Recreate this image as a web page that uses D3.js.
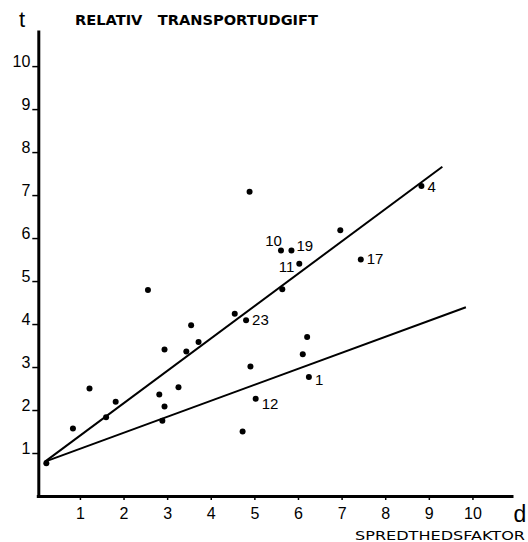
<!DOCTYPE html>
<html>
<head>
<meta charset="utf-8">
<script src="https://cdn.jsdelivr.net/npm/d3@7"></script>
<style>
  body { margin: 0; background: #fff; }
  svg { display: block; font-family: "Liberation Sans", Arial, sans-serif; }
</style>
</head>
<body>
<div id="chart"></div>
<script>
// spredthedsfaktor (d) and relativ transportudgift (t) for each observation
const dValues = [4.89, 2.56, 2.94, 3.55, 3.44, 3.72, 4.55, 4.81, 4.91, 0.23, 0.84, 1.22, 1.60, 1.82, 2.82,
                 2.94, 2.89, 3.26, 4.73, 5.03, 8.83, 6.97, 5.61, 5.85, 6.03, 7.44, 5.64, 6.21, 6.11, 6.25];
const tValues = [7.08, 4.79, 3.41, 3.97, 3.36, 3.58, 4.24, 4.09, 3.01, 0.76, 1.57, 2.50, 1.83, 2.19, 2.36,
                 2.08, 1.75, 2.53, 1.50, 2.26, 7.21, 6.18, 5.71, 5.71, 5.40, 5.50, 4.81, 3.70, 3.30, 2.77];
const pointLabels = ["", "", "", "", "", "", "", "23", "", "", "", "", "", "", "",
                     "", "", "", "", "12", "4", "", "10", "19", "11", "17", "", "", "", "1"];

// the two fitted lines, start and end points
const upperLine = [[0.20, 0.80], [9.31, 7.66]];
const lowerLine = [[0.20, 0.80], [9.85, 4.39]];

const xTicks = [1, 2, 3, 4, 5, 6, 7, 8, 9, 10];
const yTicks = [1, 2, 3, 4, 5, 6, 7, 8, 9, 10];

const width = 528, height = 542;

const svg = d3.select("#chart")
    .append("svg")
    .attr("width", width)
    .attr("height", height);

const xScale = d3.scaleLinear().domain([0, 10.93]).range([36.3, 513]);
const yScale = d3.scaleLinear().domain([0, 10.84]).range([496, 30]);

// label placement next to the dot (dx, dy in px, anchor)
const labelPos = {
    "23": [6, 5, "start"],
    "12": [6, 10, "start"],
    "1":  [6, 8, "start"],
    "4":  [6, 6, "start"],
    "17": [6, 4, "start"],
    "11": [-5, 8, "end"],
    "10": [1, -5, "end"],
    "19": [5, 0, "start"]
};

const xAxis = d3.axisBottom(xScale)
    .tickValues(xTicks)
    .tickSize(4)
    .tickSizeOuter(0)
    .tickPadding(8);

const yAxis = d3.axisLeft(yScale)
    .tickValues(yTicks)
    .tickSize(6)
    .tickSizeOuter(0)
    .tickPadding(2);

const gx = svg.append("g")
    .attr("transform", `translate(0,${yScale(0)})`)
    .call(xAxis);

const gy = svg.append("g")
    .attr("transform", `translate(${xScale(0) + 2},0)`)
    .call(yAxis);

[gx, gy].forEach(g => {
    g.select(".domain").attr("stroke", "#000").attr("stroke-width", 3);
    g.selectAll(".tick line").attr("stroke", "#000").attr("stroke-width", 1.5);
    g.selectAll(".tick text")
        .attr("fill", "#000")
        .style("font-size", "16px")
        .style("font-family", "Liberation Sans, Arial, sans-serif");
});
gy.selectAll(".tick text").attr("dy", "0.05em");

// regression lines
const line = d3.line().x(d => xScale(d[0])).y(d => yScale(d[1]));
[upperLine, lowerLine].forEach(l => {
    svg.append("path")
        .attr("d", line(l))
        .attr("fill", "none")
        .attr("stroke", "#000")
        .attr("stroke-width", 2);
});

const points = dValues.map((d, i) => ({ d: d, t: tValues[i], label: pointLabels[i] }));

svg.selectAll(".dot")
    .data(points)
    .enter()
    .append("circle")
    .attr("class", "dot")
    .attr("cx", p => xScale(p.d))
    .attr("cy", p => yScale(p.t))
    .attr("r", 3)
    .attr("fill", "#000");

svg.selectAll(".lbl")
    .data(points.filter(p => p.label))
    .enter()
    .append("text")
    .attr("class", "lbl")
    .attr("x", p => xScale(p.d) + labelPos[p.label][0])
    .attr("y", p => yScale(p.t) + labelPos[p.label][1])
    .attr("text-anchor", p => labelPos[p.label][2])
    .style("font-size", "15px")
    .text(p => p.label);

// axis titles
svg.append("text")
    .attr("x", 22).attr("y", 27)
    .attr("text-anchor", "middle")
    .style("font-size", "22px")
    .text("t");

svg.append("text")
    .attr("x", 75).attr("y", 25)
    .attr("textLength", 243)
    .attr("lengthAdjust", "spacingAndGlyphs")
    .style("white-space", "pre")
    .style("font-size", "14px")
    .style("font-weight", "600")
    .style("font-family", "DejaVu Sans, sans-serif")
    .text("RELATIV   TRANSPORTUDGIFT");

svg.append("text")
    .attr("x", 520).attr("y", 522)
    .attr("text-anchor", "middle")
    .style("font-size", "23px")
    .text("d");

svg.append("text")
    .attr("x", 355).attr("y", 540)
    .attr("textLength", 170)
    .attr("lengthAdjust", "spacingAndGlyphs")
    .style("font-size", "12.5px")
    .style("font-family", "DejaVu Sans, sans-serif")
    .text("SPREDTHEDSFAKTOR");
</script>
</body>
</html>
